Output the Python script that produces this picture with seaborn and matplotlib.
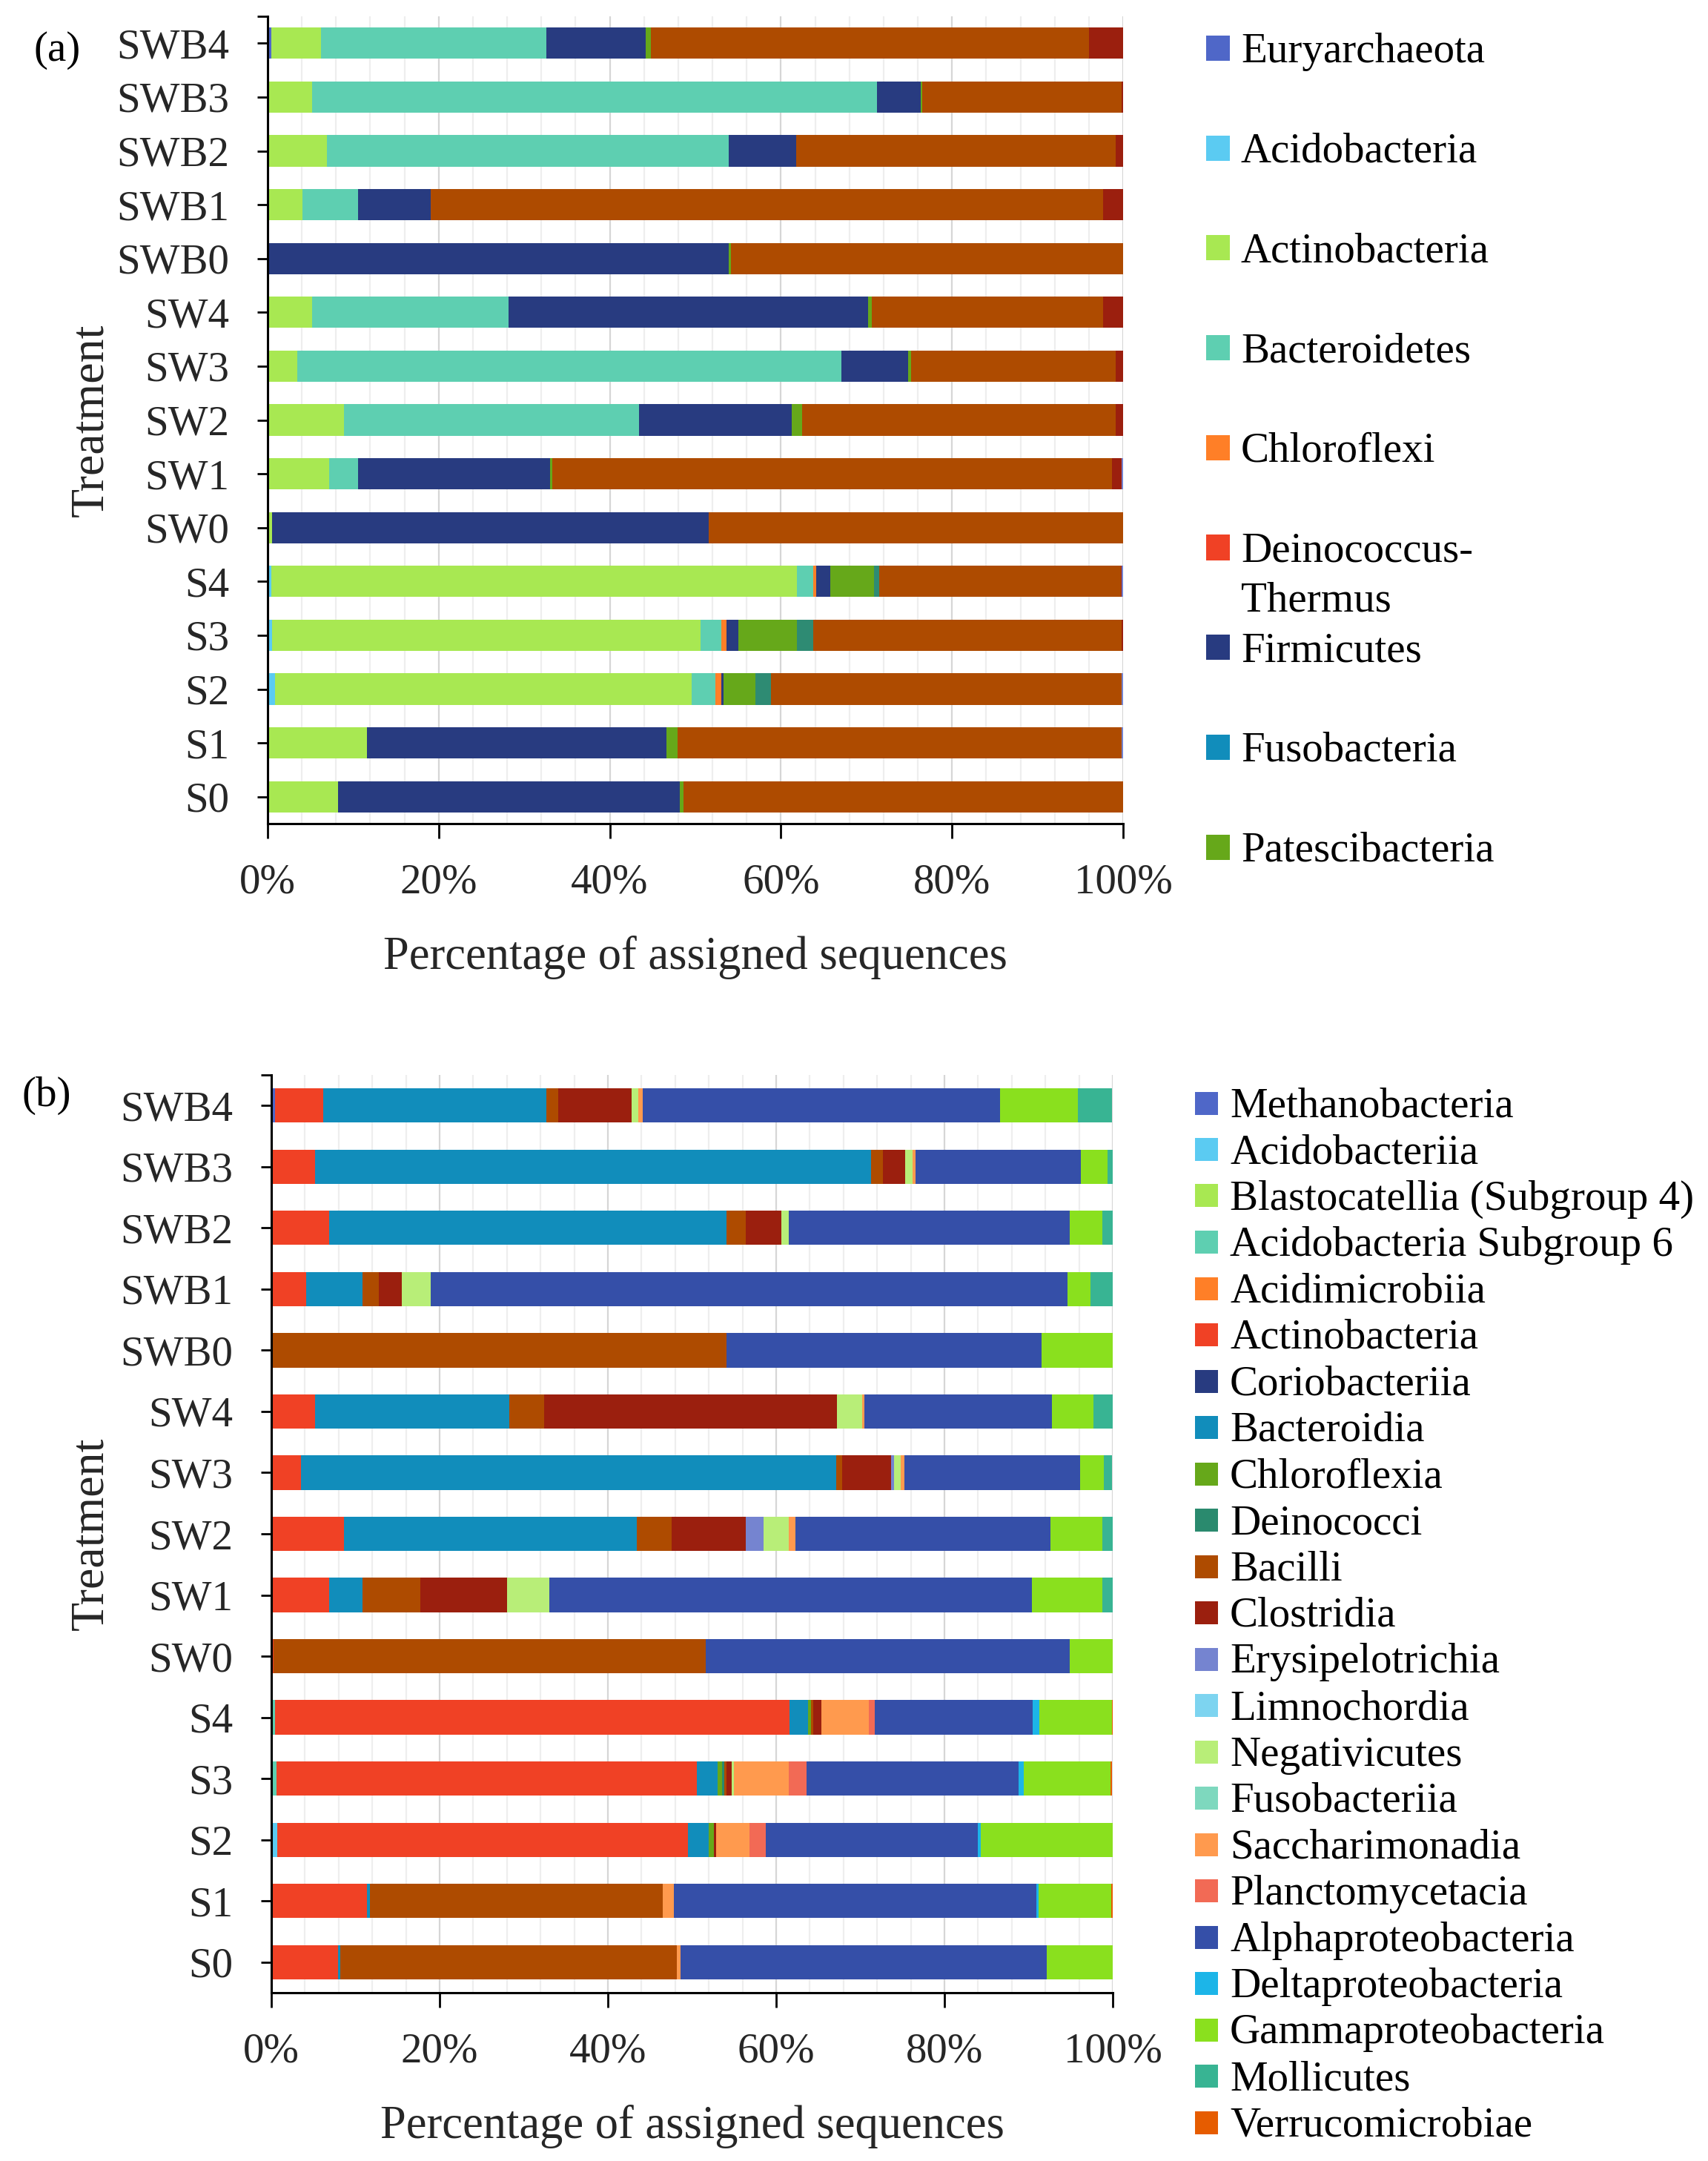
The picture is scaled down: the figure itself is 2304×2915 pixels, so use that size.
import numpy as np
import pandas as pd
import matplotlib
matplotlib.use("Agg")
import matplotlib.pyplot as plt
import seaborn as sns
from matplotlib.patches import Rectangle
from matplotlib.ticker import MultipleLocator, FixedLocator, FuncFormatter

# ---------------- data ----------------
treatments = ["SWB4", "SWB3", "SWB2", "SWB1", "SWB0", "SW4", "SW3", "SW2",
              "SW1", "SW0", "S4", "S3", "S2", "S1", "S0"]

# Panel (a): phyla (% of assigned sequences), rows in the order of `treatments`
phyla = ["Euryarchaeota", "Acidobacteria", "Actinobacteria", "Bacteroidetes",
         "Chloroflexi", "Deinococcus-Thermus", "Firmicutes", "Fusobacteria",
         "Patescibacteria", "Planctomycetes", "Proteobacteria", "Tenericutes",
         "Verrucomicrobia"]
phyla_colors = ["#4F67C8", "#5BCBF2", "#A8E852", "#5ECFB1", "#FF7F27", "#F04125",
                "#283B80", "#118DBB", "#66A81A", "#2E8B73", "#AE4B00", "#9B1F0E",
                "#7584D0"]
# legend of panel (a) shows only the first 9 phyla
phyla_legend_labels = ["Euryarchaeota", "Acidobacteria", "Actinobacteria",
                       "Bacteroidetes", "Chloroflexi", "Deinococcus-\nThermus",
                       "Firmicutes", "Fusobacteria", "Patescibacteria"]

euryarchaeota   = [0.4, 0, 0, 0, 0, 0, 0, 0, 0, 0, 0, 0, 0, 0, 0]
acidobacteria   = [0, 0, 0, 0, 0, 0, 0, 0, 0, 0, 0.4, 0.5, 0.9, 0, 0]
actinobacteria  = [5.8, 5.2, 6.9, 4.1, 0, 5.2, 3.5, 8.9, 7.2, 0.5, 61.5, 50.1, 48.7, 11.6, 8.2]
bacteroidetes   = [26.4, 66.0, 47.0, 6.5, 0, 23.0, 63.6, 34.5, 3.4, 0, 1.9, 2.4, 2.7, 0, 0]
chloroflexi     = [0, 0, 0, 0, 0, 0, 0, 0, 0, 0, 0.3, 0.6, 0.7, 0, 0]
deinococcus     = [0, 0, 0, 0, 0, 0, 0, 0, 0, 0, 0, 0, 0, 0, 0]
firmicutes      = [11.6, 5.1, 7.9, 8.5, 53.9, 42.0, 7.8, 17.9, 22.4, 51.1, 1.7, 1.4, 0.3, 35.0, 40.0]
fusobacteria    = [0, 0, 0, 0, 0, 0, 0, 0, 0, 0, 0, 0, 0, 0, 0]
patescibacteria = [0.6, 0.2, 0, 0, 0.3, 0.4, 0.3, 1.2, 0.3, 0, 5.1, 6.9, 3.7, 1.3, 0.4]
planctomycetes  = [0, 0, 0, 0, 0, 0, 0, 0, 0, 0, 0.6, 1.9, 1.8, 0, 0]
proteobacteria  = [51.2, 23.3, 37.3, 78.6, 45.8, 27.1, 23.9, 36.6, 65.4, 48.4, 28.2, 36.0, 41.0, 51.9, 51.4]
tenericutes     = [4.0, 0.2, 0.9, 2.3, 0, 2.3, 0.9, 0.9, 1.1, 0, 0.1, 0.2, 0, 0, 0]
verrucomicrobia = [0, 0, 0, 0, 0, 0, 0, 0, 0.2, 0, 0.2, 0, 0.2, 0.2, 0]

phyla_values = [euryarchaeota, acidobacteria, actinobacteria, bacteroidetes,
                chloroflexi, deinococcus, firmicutes, fusobacteria,
                patescibacteria, planctomycetes, proteobacteria, tenericutes,
                verrucomicrobia]

# Panel (b): classes
classes = ["Methanobacteria", "Acidobacteriia", "Blastocatellia (Subgroup 4)",
           "Acidobacteria Subgroup 6", "Acidimicrobiia", "Actinobacteria",
           "Coriobacteriia", "Bacteroidia", "Chloroflexia", "Deinococci",
           "Bacilli", "Clostridia", "Erysipelotrichia", "Limnochordia",
           "Negativicutes", "Fusobacteriia", "Saccharimonadia",
           "Planctomycetacia", "Alphaproteobacteria", "Deltaproteobacteria",
           "Gammaproteobacteria", "Mollicutes", "Verrucomicrobiae"]
class_colors = ["#4F67C8", "#5BCBF2", "#A8E852", "#5ECFB1", "#FF7F27", "#F04125",
                "#283B80", "#118DBB", "#66A81A", "#2A8A6E", "#AE4B00", "#9B1F0E",
                "#7584D0", "#7DD4F0", "#B8EE78", "#7ED8BE", "#FF9A4E", "#F26A55",
                "#354FA8", "#1CB5E8", "#8AE01E", "#38B493", "#E65C00"]

methanobacteria  = [0.4, 0, 0, 0, 0, 0, 0, 0, 0, 0, 0, 0, 0, 0, 0]
acidobacteriia   = [0, 0, 0, 0, 0, 0, 0, 0, 0, 0, 0, 0, 0.7, 0, 0]
blastocatellia   = [0, 0, 0, 0, 0, 0, 0, 0, 0, 0, 0, 0, 0, 0, 0]
acido_sub6       = [0, 0, 0, 0, 0, 0, 0, 0, 0, 0, 0.4, 0.6, 0, 0, 0]
acidimicrobiia   = [0, 0, 0, 0, 0, 0, 0, 0, 0, 0, 0, 0, 0, 0, 0]
actinobacteria_c = [5.8, 5.2, 6.9, 4.1, 0, 5.2, 3.5, 8.6, 6.9, 0.3, 61.2, 50.0, 48.8, 11.4, 7.9]
coriobacteriia   = [0, 0, 0, 0, 0, 0, 0, 0, 0, 0, 0, 0, 0, 0, 0]
bacteroidia      = [26.5, 66.1, 47.2, 6.7, 0, 23.1, 63.6, 34.8, 3.9, 0, 2.2, 2.4, 2.5, 0.3, 0.3]
chloroflexia     = [0, 0, 0, 0, 0, 0, 0, 0, 0, 0, 0.3, 0.6, 0.6, 0, 0]
deinococci       = [0, 0, 0, 0, 0, 0, 0, 0, 0, 0, 0, 0.2, 0, 0, 0]
bacilli          = [1.4, 1.4, 2.3, 2.0, 54.1, 4.1, 0.7, 4.2, 6.9, 51.3, 0.3, 0.3, 0, 34.8, 40.0]
clostridia       = [8.7, 2.6, 4.2, 2.7, 0, 34.8, 5.9, 8.8, 10.3, 0, 1.0, 0.6, 0.3, 0, 0]
erysipelotrichia = [0, 0, 0, 0, 0, 0, 0.3, 2.1, 0, 0, 0, 0, 0, 0, 0]
limnochordia     = [0, 0, 0, 0, 0, 0, 0, 0, 0, 0, 0, 0, 0, 0, 0]
negativicutes    = [0.8, 0.9, 0.9, 3.4, 0, 3.0, 0.8, 3.0, 5.0, 0, 0, 0.3, 0, 0, 0]
fusobacteriia    = [0, 0, 0, 0, 0, 0, 0, 0, 0, 0, 0, 0, 0, 0, 0]
saccharimonadia  = [0.5, 0.4, 0, 0, 0, 0.3, 0.4, 0.8, 0, 0, 5.6, 6.5, 3.9, 1.3, 0.4]
planctomycetacia = [0, 0, 0, 0, 0, 0, 0, 0, 0, 0, 0.7, 2.1, 2.0, 0, 0]
alphaproteo      = [42.5, 19.6, 33.4, 75.7, 37.4, 22.3, 20.9, 30.3, 57.4, 43.3, 18.8, 25.2, 25.2, 43.1, 43.6]
deltaproteo      = [0, 0, 0, 0, 0, 0, 0, 0, 0, 0, 0.8, 0.6, 0.3, 0.3, 0]
gammaproteo      = [9.3, 3.2, 3.9, 2.8, 8.5, 4.9, 2.8, 6.2, 8.4, 5.1, 8.6, 10.3, 15.7, 8.6, 7.8]
mollicutes       = [4.0, 0.6, 1.2, 2.6, 0, 2.3, 1.0, 1.2, 1.2, 0, 0, 0, 0, 0, 0]
verrucomicrobiae = [0, 0, 0, 0, 0, 0, 0, 0, 0, 0, 0.2, 0.2, 0, 0.2, 0]

class_values = [methanobacteria, acidobacteriia, blastocatellia, acido_sub6,
                acidimicrobiia, actinobacteria_c, coriobacteriia, bacteroidia,
                chloroflexia, deinococci, bacilli, clostridia, erysipelotrichia,
                limnochordia, negativicutes, fusobacteriia, saccharimonadia,
                planctomycetacia, alphaproteo, deltaproteo, gammaproteo,
                mollicutes, verrucomicrobiae]

xticks = [0, 20, 40, 60, 80, 100]
xlabel = "Percentage of assigned sequences"
ylabel = "Treatment"

# ---------------- style ----------------
sns.set_style("white")
plt.rcParams['font.family'] = ['Liberation Serif', 'DejaVu Serif']
plt.rcParams['text.color'] = 'black'

W, H = 2304, 2915
fig = plt.figure(figsize=(W / 100, H / 100), dpi=100)
fig.patch.set_facecolor("white")

axA = fig.add_axes([361 / W, 1 - 1111 / H, 1154 / W, 1089 / H])
axB = fig.add_axes([366 / W, 1 - 2688 / H, 1135 / W, 1238 / H])

FS = 41


def stacked(ax, values, colors, bar_h):
    cum = np.cumsum(np.array(values, dtype=float), axis=0)
    cum = np.minimum(cum, 100.0)
    for k in range(len(values) - 1, -1, -1):
        df = pd.DataFrame({"Treatment": treatments, "pct": cum[k]})
        sns.barplot(data=df, x="pct", y="Treatment", order=treatments,
                    orient="h", color=colors[k], saturation=1, width=bar_h,
                    linewidth=0, errorbar=None, ax=ax, zorder=2)


def style_axes(ax, xlab_y):
    ax.set_xlim(0, 100)
    ax.set_ylim(len(treatments) - 0.5, -0.5)
    ax.set_axisbelow(True)
    ax.xaxis.set_major_locator(FixedLocator(xticks))
    ax.xaxis.set_minor_locator(MultipleLocator(4))
    ax.xaxis.set_major_formatter(FuncFormatter(lambda v, p: f"{int(round(v))}%"))
    ax.grid(False)
    ax.grid(which="major", axis="x", color="#D6D6D6", lw=1.6, zorder=0)
    ax.grid(which="minor", axis="x", color="#EEEEEE", lw=1.6, zorder=0)
    ax.yaxis.set_minor_locator(FixedLocator([-0.5]))
    for s in ["top", "right"]:
        ax.spines[s].set_visible(False)
    for s in ["left", "bottom"]:
        ax.spines[s].set_visible(True)
        ax.spines[s].set_color("black")
        ax.spines[s].set_linewidth(2.2)
    ax.tick_params(axis="x", which="major", direction="out", length=14.4,
                   width=2, color="black", labelsize=FS, pad=24, bottom=True)
    ax.tick_params(axis="x", which="minor", length=0)
    ax.tick_params(axis="y", which="both", direction="out", length=10,
                   width=2, color="black", labelsize=FS, pad=27, left=True)
    ax.set_xlabel(xlabel, fontsize=45)
    ax.set_ylabel(ylabel, fontsize=46)
    ax.xaxis.set_label_coords(0.5, xlab_y)
    ax.xaxis.label.set_va("top")


stacked(axA, phyla_values, phyla_colors, 0.58)
style_axes(axA, -0.1385)
axA.yaxis.set_label_coords((152 - 361) / 1154, 0.5)

stacked(axB, class_values, class_colors, 0.56)
style_axes(axB, -0.1218)
axB.yaxis.set_label_coords((152 - 366) / 1135, 0.5)

# panel letters
fig.text(77 / W, 1 - 68 / H, "(a)", fontsize=FS, ha="center", va="center")
fig.text(63 / W, 1 - 1478 / H, "(b)", fontsize=FS, ha="center", va="center")


def draw_legend(labels, colors, x_sq, sq_w, sq_h, x_txt, y0, dy, fs, cap, line_gap):
    for i, (lab, col) in enumerate(zip(labels, colors)):
        yc = y0 + i * dy
        fig.patches.append(Rectangle((x_sq / W, 1 - (yc + sq_h / 2) / H),
                                     sq_w / W, sq_h / H,
                                     transform=fig.transFigure,
                                     facecolor=col, edgecolor="none"))
        for j, line in enumerate(lab.split("\n")):
            fig.text(x_txt / W, 1 - (yc + cap / 2 + j * line_gap) / H, line,
                     fontsize=fs, ha="left", va="baseline")


draw_legend(phyla_legend_labels, phyla_colors[:9], 1627, 32, 34, 1674,
            65, 134.7, FS, 38, 67)
draw_legend(classes, class_colors, 1612, 31, 31, 1659,
            1488, 62.5, 41, 37, 62)

fig.savefig("out.png", dpi=100, facecolor="white")
